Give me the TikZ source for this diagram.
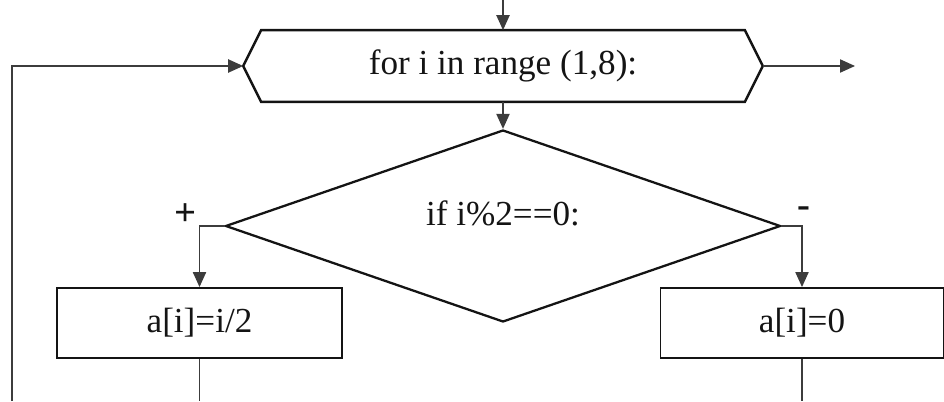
\documentclass[tikz,border=0pt]{standalone}
\usepackage{fontspec}
\setmainfont{Liberation Serif}
\usepackage{xcolor}
\definecolor{flowdark}{RGB}{20,20,20}
\definecolor{flowgray}{RGB}{60,60,60}
\usepackage{tikz}
\usetikzlibrary{shapes.geometric,arrows.meta,positioning,calc}

\begin{document}
\begin{tikzpicture}[
  >={Triangle[length=8.5pt,width=7.5pt]},
  txt/.style={font=\fontsize{20}{24}\selectfont, text=flowdark},
  sign/.style={font=\fontsize{22}{26}\selectfont\bfseries, text=flowdark, inner sep=0pt},
  box/.style={txt, draw=flowdark, line width=1.1pt, minimum width=5.7cm, minimum height=1.4cm, inner sep=0pt},
  cond/.style={diamond, draw=flowdark, line width=1.3pt, minimum width=11.1cm, minimum height=3.84cm, inner sep=0pt, aspect=2.9},
  arr/.style={->, line width=0.8pt, flowgray},
  wire/.style={line width=0.8pt, flowgray}
]
\useasboundingbox (0,0) rectangle (18.88,8.02);

% loop header
\node[txt, minimum width=9.66cm, minimum height=1.42cm, inner sep=0pt] (loop) at (10.06,6.70) {for i in range (1,8):};
\coordinate (loopL) at ($(loop.west)+(-0.36,0)$);
\coordinate (loopR) at ($(loop.east)+(0.36,0)$);
\draw[line width=1.4pt, flowdark] (loopL) -- (loop.north west) -- (loop.north east) -- (loopR) -- (loop.south east) -- (loop.south west) -- cycle;

\node[cond] (test) at (10.06,3.50) {};
\node[txt] (testlbl) at (10.06,3.76) {if i\%2==0:};
\node[box] (even) at (3.99,1.56) {a[i]=i/2};
\node[box, minimum width=5.66cm] (odd) at (16.04,1.56) {a[i]=0};

\node[sign] (plus) at (3.72,3.72) {+};
\node[sign] (minus) at (16.08,3.77) {-};

% free ends
\coordinate (in) at (10.06,8.02);
\coordinate (out) at (17.10,6.70);
\coordinate (back) at (0.24,0);
\coordinate (evenEnd) at (3.99,0);
\coordinate (oddEnd) at (16.04,0);

\draw[arr] (in) -- (loop.north);
\draw[arr] (loop.south) -- (test.north);
\draw[arr] (loopR) -- (out);
\draw[arr] (back) |- (loopL);
\draw[arr] (test.west) -| (even.north);
\draw[arr] (test.east) -| (odd.north);
\draw[wire] (even.south) -- (evenEnd);
\draw[wire] (odd.south) -- (oddEnd);
\end{tikzpicture}
\end{document}
